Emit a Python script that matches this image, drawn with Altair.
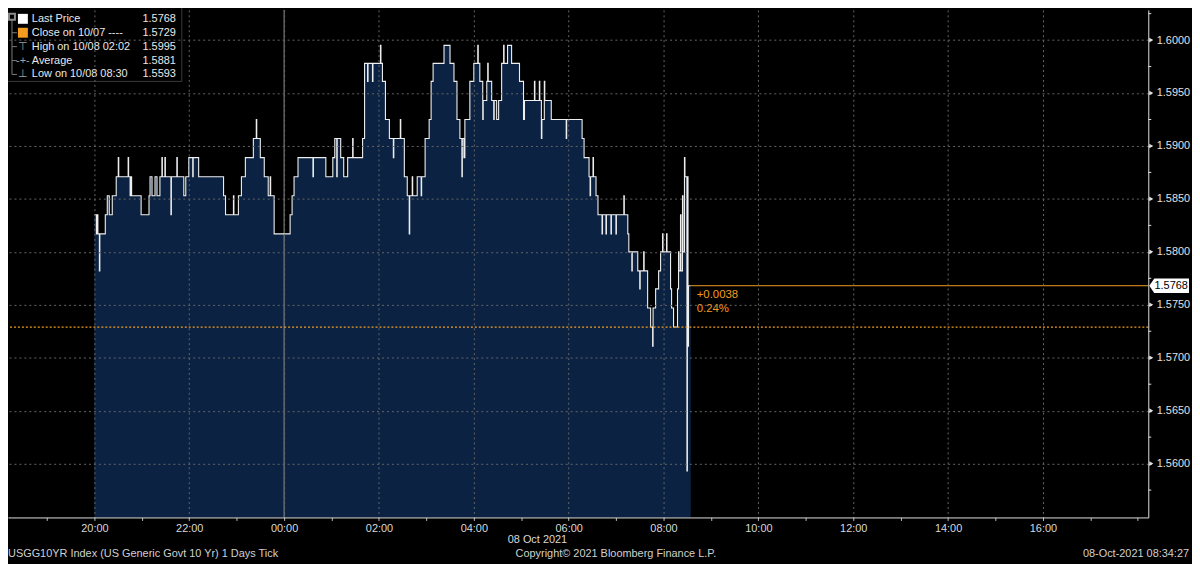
import altair as alt
import pandas as pd

# ---------------- data ----------------
session_start = "2021-10-07 20:00:00"   # minutes below are counted from here

tick_minutes = [
    0.0, 2.5, 3.8, 4.4, 6.3, 6.9, 13.8, 16.3, 18.8, 22.6, 27.6, 30.2, 30.8, 42.7, 43.3,
    45.2, 46.5, 47.1, 59.1, 69.1, 70.4, 72.9, 76.7, 79.2, 82.9, 85.4, 86.0, 89.2, 89.8,
    96.8, 97.4, 104.3, 104.9, 113.1, 115.6, 119.4, 124.4, 125.0, 131.9, 163.4, 165.9,
    175.9, 176.5, 182.2, 186.0, 191.0, 201.1, 204.8, 205.4, 209.9, 214.9, 219.9, 222.4,
    223.0, 227.4, 247.6, 250.1, 252.6, 257.6, 276.5, 277.1, 292.8, 301.6, 304.1, 306.6,
    307.2, 311.6, 315.4, 320.4, 326.7, 327.3, 339.3, 341.8, 345.6, 346.2, 351.8, 352.4,
    361.9, 362.5, 364.4, 368.2, 373.2, 378.2, 378.8, 387.0, 387.6, 392.1, 395.8, 398.3,
    398.9, 402.1, 402.7, 408.4, 413.4, 414.0, 418.4, 423.5, 426.0, 428.5, 442.3, 449.9,
    454.9, 458.7, 462.4, 464.9, 465.5, 467.5, 468.7, 475.0, 480.0, 485.0, 485.6, 487.6,
    491.3, 491.9, 496.4, 497.6, 498.2, 502.6, 505.2, 505.8, 508.9, 511.4, 515.2, 517.7,
    518.3, 522.7, 527.8, 537.8, 542.9, 544.1, 556.7, 557.3, 562.9, 563.5, 565.5, 566.1,
    569.2, 569.8, 578.0, 596.9, 597.5, 617.0, 619.5, 625.8, 627.1, 627.7, 630.8, 631.4,
    634.6, 637.1, 642.2, 642.8, 647.2, 647.8, 653.5, 654.1, 659.8, 660.4, 669.8, 670.4,
    674.8, 676.1, 679.9, 680.5, 687.4, 689.9, 690.5, 694.9, 695.5, 699.9, 703.7, 706.2,
    706.8, 710.0, 713.8, 716.3, 718.8, 719.4, 723.8, 724.4, 728.9, 730.2, 732.7, 737.7,
    739.0, 739.6, 741.5, 742.1, 744.0, 744.6, 746.5, 747.1, 749.6, 750.2, 751.0, 751.6,
    754.4,
]

tick_yields = [
    1.5835, 1.5817, 1.5835, 1.5817, 1.5782, 1.5817, 1.5835, 1.5853, 1.5835, 1.5853, 1.5871, 1.5889, 1.5871, 1.5889, 1.5871,
    1.5853, 1.5871, 1.5853, 1.5835, 1.5853, 1.5871, 1.5853, 1.5871, 1.5853, 1.5871, 1.5889, 1.5871, 1.5889, 1.5871,
    1.5835, 1.5871, 1.5889, 1.5871, 1.5853, 1.5871, 1.5889, 1.5871, 1.5889, 1.5871, 1.5853, 1.5835,
    1.5853, 1.5835, 1.5853, 1.5871, 1.5889, 1.5907, 1.5925, 1.5907, 1.5889, 1.5871, 1.5853, 1.5871,
    1.5853, 1.5817, 1.5835, 1.5853, 1.5871, 1.5889, 1.5871, 1.5889, 1.5871, 1.5889, 1.5907, 1.5871,
    1.5907, 1.5889, 1.5871, 1.5889, 1.5907, 1.5889, 1.5907, 1.5978, 1.5961, 1.5978, 1.5961, 1.5978,
    1.5995, 1.5978, 1.5961, 1.5925, 1.5907, 1.5889, 1.5907, 1.5925, 1.5907, 1.5871, 1.5853, 1.5817,
    1.5853, 1.5871, 1.5853, 1.5871, 1.5853, 1.5871, 1.5907, 1.5925, 1.5961, 1.5978, 1.5995, 1.5978,
    1.5961, 1.5925, 1.5907, 1.5871, 1.5907, 1.5889, 1.5925, 1.5961, 1.5978, 1.5995, 1.5978, 1.5961,
    1.5925, 1.5943, 1.5961, 1.5978, 1.5961, 1.5943, 1.5925, 1.5943, 1.5925, 1.5943, 1.5978, 1.5995,
    1.5978, 1.5995, 1.5978, 1.5961, 1.5925, 1.5943, 1.5961, 1.5943, 1.5961, 1.5943, 1.5907, 1.5925,
    1.5961, 1.5943, 1.5925, 1.5907, 1.5925, 1.5907, 1.5889, 1.5871, 1.5853, 1.5871, 1.5889, 1.5871,
    1.5853, 1.5835, 1.5817, 1.5835, 1.5817, 1.5835, 1.5817, 1.5835, 1.5817, 1.5835, 1.5853, 1.5835,
    1.5817, 1.5800, 1.5782, 1.5800, 1.5782, 1.5765, 1.5782, 1.5800, 1.5782, 1.5747, 1.5729, 1.5711,
    1.5747, 1.5765, 1.5782, 1.5800, 1.5817, 1.5800, 1.5817, 1.5800, 1.5765, 1.5747, 1.5729, 1.5765,
    1.5800, 1.5782, 1.5835, 1.5782, 1.5853, 1.5800, 1.5889, 1.5871, 1.5593, 1.5871, 1.5711, 1.5768,
    1.5768,
]

major_y_ticks = [1.5600, 1.5650, 1.5700, 1.5750, 1.5800, 1.5850, 1.5900, 1.5950, 1.6000]
minor_y_ticks = [1.5575, 1.5625, 1.5675, 1.5725, 1.5775, 1.5825, 1.5875, 1.5925, 1.5975, 1.6025]

close_value = 1.5729
last_value = 1.5768
change_labels = ["+0.0038", "0.24%"]

legend_labels = ["Last Price", "Close on 10/07 ----", "High on 10/08 02:02", "Average", "Low on 10/08 08:30"]
legend_values = ["1.5768", "1.5729", "1.5995", "1.5881", "1.5593"]

footer_left = "USGG10YR Index (US Generic Govt 10 Yr) 1 Days  Tick"
footer_center = "Copyright\u00a9 2021 Bloomberg Finance L.P."
footer_right = "08-Oct-2021 08:34:27"
date_label = "08 Oct 2021"

# ---------------- styling ----------------
W, H = 1148, 511
Y_MIN, Y_MAX = 1.554916, 1.602852
NAVY = "#0b2243"
ORANGE = "#f39c1f"
GRID = "#666666"
FONT = "Liberation Sans"

times = pd.Timestamp(session_start) + pd.to_timedelta(tick_minutes, unit="m")
df = pd.DataFrame({"time": times.strftime("%Y-%m-%dT%H:%M:%S"), "yield": tick_yields})

x_start = alt.DateTime(year=2021, month=10, date=7, hours=18, minutes=10, seconds=42)
x_end = alt.DateTime(year=2021, month=10, date=8, hours=18, minutes=13, seconds=18)
end_dt = alt.DateTime(year=2021, month=10, date=8, hours=8, minutes=34, seconds=24)
midnight = alt.DateTime(year=2021, month=10, date=8, hours=0)
hour_ticks = [alt.DateTime(year=2021, month=10, date=7 if h < 24 else 8, hours=h % 24)
              for h in range(19, 43)]

shown_hour = "hours(datum.value) % 2 == 0 && hours(datum.value) != 18"
x_axis = alt.Axis(values=hour_ticks,
                  labelExpr=f"({shown_hour}) ? timeFormat(datum.value, '%H:%M') : ''",
                  tickSize=3, tickColor="#bdbdbd", domainColor="#e0e0e0", labelColor="#d9d9d9",
                  labelFontSize=11, labelPadding=2, labelFont=FONT, labelFlush=False, labelOverlap=False,
                  grid=True, gridColor=GRID, gridDash=[2, 3],
                  gridOpacity={"condition": {"test": shown_hour, "value": 1}, "value": 0},
                  title=None, zindex=1)
y_axis = alt.Axis(orient="right", values=major_y_ticks, format=".4f",
                  tickSize=3, tickColor="#e0e0e0", domainColor="#e0e0e0", labelColor="#e0e0e0",
                  labelFontSize=11, labelPadding=5, labelFont=FONT, labelOverlap=False,
                  grid=True, gridColor=GRID, gridDash=[2, 3],
                  title=None, zindex=1)

x_enc = alt.X("time:T", scale=alt.Scale(domain=[x_start, x_end], nice=False), axis=x_axis)
y_enc = alt.Y("yield:Q", scale=alt.Scale(domain=[Y_MIN, Y_MAX], nice=False, zero=False), axis=y_axis)

base = alt.Chart(df)
area = base.mark_area(interpolate="step-after", color=NAVY).encode(x=x_enc, y=y_enc, y2=alt.datum(Y_MIN))
line = base.mark_line(interpolate="step-after", color="#eeeeee", strokeWidth=1.1).encode(
    x="time:T", y="yield:Q")

one = pd.DataFrame({"k": [0]})

midnight_rule = alt.Chart(one).mark_rule(color="#8f8f8f", strokeWidth=1).encode(
    x=alt.XDatum(midnight))
close_rule = alt.Chart(one).mark_rule(color=ORANGE, strokeWidth=1.3, strokeDash=[2, 2]).encode(
    y=alt.YDatum(close_value))
last_rule = alt.Chart(one).mark_rule(color=ORANGE, strokeWidth=1).encode(
    x=alt.XDatum(end_dt), x2=alt.value(W), y=alt.YDatum(last_value))

change_layers = [
    alt.Chart(one).mark_text(align="left", baseline="middle", color=ORANGE, fontSize=11.5, font=FONT,
                             dx=6, dy=dy).encode(
        x=alt.XDatum(end_dt), y=alt.YDatum(last_value), text=alt.value(lbl))
    for lbl, dy in zip(change_labels, [9, 23])
]

tag_shape = "M -1 0 L -0.75 -0.36 L 1 -0.36 L 1 0.36 L -0.75 0.36 Z"
price_tag = alt.Chart(one).mark_point(shape=tag_shape, size=1600, filled=True, color="#ffffff",
                                      opacity=1).encode(
    x=alt.value(1169), y=alt.YDatum(last_value))
price_tag_text = alt.Chart(one).mark_text(color="#000000", fontSize=11, font=FONT, align="center",
                                          baseline="middle").encode(
    x=alt.value(1171), y=alt.YDatum(last_value), text=alt.value(f"{last_value:.4f}"))

triangles = alt.Chart(pd.DataFrame({"yield": major_y_ticks})).mark_point(
    shape="triangle-right", filled=True, size=22, color="#e0e0e0", opacity=1).encode(
    x=alt.value(W + 3), y="yield:Q")
minor_ticks = alt.Chart(pd.DataFrame({"yield": minor_y_ticks})).mark_rule(
    color="#e0e0e0", strokeWidth=1).encode(x=alt.value(W), x2=alt.value(W + 3), y="yield:Q")

# ---------------- legend ----------------
row_y = [9, 23, 37, 51, 65]
legend_layers = [
    alt.Chart(one).mark_rect(fill="#000000", stroke="#3a3a3a", strokeWidth=1).encode(
        x=alt.value(-4), x2=alt.value(175), y=alt.value(-3), y2=alt.value(72)),
    alt.Chart(one).mark_rule(color="#7a7a7a").encode(x=alt.value(4), y=alt.value(10), y2=alt.value(65)),
    alt.Chart(one).mark_square(filled=False, size=36, color="#8a8a8a", opacity=1).encode(
        x=alt.value(4), y=alt.value(7)),
]
for ry in row_y[1:]:
    legend_layers.append(alt.Chart(one).mark_rule(color="#7a7a7a").encode(
        x=alt.value(4), x2=alt.value(9), y=alt.value(ry)))
legend_layers.append(alt.Chart(one).mark_square(size=100, color="#ffffff", opacity=1).encode(
    x=alt.value(15), y=alt.value(row_y[0])))
legend_layers.append(alt.Chart(one).mark_square(size=100, color=ORANGE, opacity=1).encode(
    x=alt.value(15), y=alt.value(row_y[1])))
for glyph, ry in zip(["\u22a4", "-+-", "\u22a5"], row_y[2:]):
    legend_layers.append(alt.Chart(one).mark_text(color="#a0a0a0", fontSize=11, align="center",
                                                  baseline="middle").encode(
        x=alt.value(15), y=alt.value(ry), text=alt.value(glyph)))
for lbl, val, ry in zip(legend_labels, legend_values, row_y):
    legend_layers.append(alt.Chart(one).mark_text(color="#e8e8e8", fontSize=11, font=FONT, align="left",
                                                  baseline="middle").encode(
        x=alt.value(24), y=alt.value(ry), text=alt.value(lbl)))
    legend_layers.append(alt.Chart(one).mark_text(color="#e8e8e8", fontSize=11, font=FONT, align="right",
                                                  baseline="middle").encode(
        x=alt.value(169), y=alt.value(ry), text=alt.value(val)))

# ---------------- footer ----------------
footer_layers = [
    alt.Chart(one).mark_text(color="#d9d9d9", fontSize=11, font=FONT, align="center",
                             baseline="middle").encode(x=alt.value(533), y=alt.value(534),
                                                       text=alt.value(date_label)),
    alt.Chart(one).mark_text(color="#d0d0d0", fontSize=11, font=FONT, align="left",
                             baseline="middle").encode(x=alt.value(0), y=alt.value(548),
                                                       text=alt.value(footer_left)),
    alt.Chart(one).mark_text(color="#d0d0d0", fontSize=11, font=FONT, align="center",
                             baseline="middle").encode(x=alt.value(612), y=alt.value(548),
                                                       text=alt.value(footer_center)),
    alt.Chart(one).mark_text(color="#d0d0d0", fontSize=11, font=FONT, align="right",
                             baseline="middle").encode(x=alt.value(1189), y=alt.value(548),
                                                       text=alt.value(footer_right)),
]

chart = alt.layer(
    area, midnight_rule, line, close_rule, last_rule, *change_layers, price_tag, price_tag_text,
    triangles, minor_ticks, *legend_layers, *footer_layers
).properties(
    width=W, height=H,
    padding={"left": 0, "top": 0, "right": 44, "bottom": 50},
    autosize=alt.AutoSizeParams(type="none"),
    background="#000000",
).configure(font=FONT).configure_view(strokeWidth=0)

chart.save("out.html", embed_options={"renderer": "svg", "actions": False})
